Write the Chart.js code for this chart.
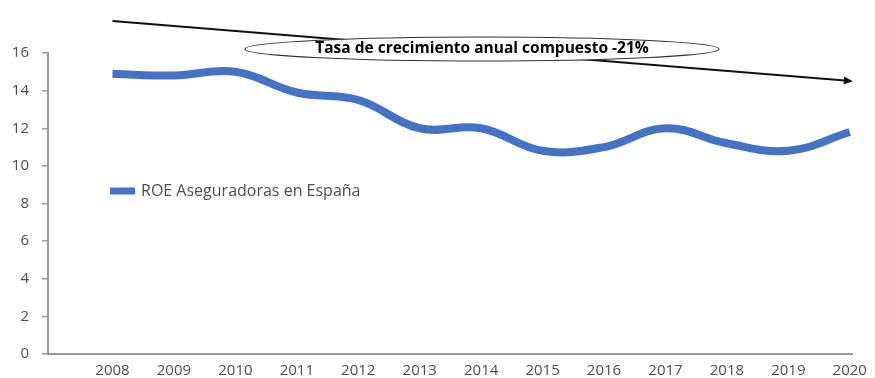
<!DOCTYPE html>
<html>
<head>
<meta charset="utf-8">
<script src="https://cdn.jsdelivr.net/npm/chart.js@4/dist/chart.umd.min.js"></script>
<style>
  html, body { margin: 0; padding: 0; background: #fff; }
  #wrap { width: 875px; height: 378px; }
</style>
</head>
<body>
<div id="wrap"><canvas id="roeChart" width="875" height="378"></canvas></div>
<script>
// ROE of Spanish insurers, 2008-2020
const years = [2008, 2009, 2010, 2011, 2012, 2013, 2014, 2015, 2016, 2017, 2018, 2019, 2020];
const roeValues = [14.9, 14.8, 15.0, 13.9, 13.5, 12.0, 12.0, 10.8, 11.0, 12.0, 11.2, 10.8, 11.8];
const seriesLabel = "ROE Aseguradoras en España";
const trendLabel = "Tasa de crecimiento anual compuesto -21%";
// trend arrow: start / end in data units
const trendStart = [2008, 17.7];
const trendEnd = [2020.05, 14.5];

const FONT = "'Open Sans', sans-serif";
const TEXT = "#4d4d4d";
const BLUE = "#4472c4";

// legend sitting inside the plot, plus the trend arrow with its label bubble
const overlayPlugin = {
  id: "overlay",
  afterDraw(chart) {
    const ctx = chart.ctx;
    const xs = chart.scales.x;
    const ys = chart.scales.y;
    ctx.save();

    // trend arrow
    const x1 = xs.getPixelForValue(trendStart[0]);
    const y1 = ys.getPixelForValue(trendStart[1]);
    const x2 = xs.getPixelForValue(trendEnd[0]);
    const y2 = ys.getPixelForValue(trendEnd[1]);
    const ang = Math.atan2(y2 - y1, x2 - x1);
    ctx.strokeStyle = "#111";
    ctx.lineWidth = 2;
    ctx.beginPath();
    ctx.moveTo(x1, y1);
    ctx.lineTo(x2 - 5 * Math.cos(ang), y2 - 5 * Math.sin(ang));
    ctx.stroke();
    ctx.fillStyle = "#111";
    ctx.beginPath();
    ctx.moveTo(x2, y2);
    ctx.lineTo(x2 - 9 * Math.cos(ang) + 4 * Math.sin(ang), y2 - 9 * Math.sin(ang) - 4 * Math.cos(ang));
    ctx.lineTo(x2 - 9 * Math.cos(ang) - 4 * Math.sin(ang), y2 - 9 * Math.sin(ang) + 4 * Math.cos(ang));
    ctx.closePath();
    ctx.fill();

    // label bubble
    const cx = 482, cy = 49;
    ctx.beginPath();
    ctx.ellipse(cx, cy, 237, 12, 0, 0, Math.PI * 2);
    ctx.fillStyle = "#fff";
    ctx.fill();
    ctx.strokeStyle = "#333";
    ctx.lineWidth = 1.2;
    ctx.stroke();
    ctx.fillStyle = "#000";
    ctx.font = "bold 15.5px " + FONT;
    ctx.textAlign = "center";
    ctx.textBaseline = "middle";
    ctx.fillText(trendLabel, cx, cy);

    // legend
    ctx.strokeStyle = BLUE;
    ctx.lineWidth = 7;
    ctx.beginPath();
    ctx.moveTo(110, 191);
    ctx.lineTo(135, 191);
    ctx.stroke();
    ctx.fillStyle = TEXT;
    ctx.font = "16px " + FONT;
    ctx.textAlign = "left";
    ctx.fillText(seriesLabel, 141, 191);

    ctx.restore();
  },
};

const ctx = document.getElementById("roeChart").getContext("2d");
new Chart(ctx, {
  type: "line",
  data: {
    datasets: [
      {
        label: seriesLabel,
        data: years.map((y, i) => ({ x: y, y: roeValues[i] })),
        borderColor: BLUE,
        borderWidth: 8,
        tension: 0.4,
        pointRadius: 0,
        fill: false,
      },
    ],
  },
  options: {
    responsive: false,
    animation: false,
    layout: { padding: { top: 53, right: 20, left: 0, bottom: 0 } },
    plugins: {
      legend: { display: false },
      tooltip: { enabled: false },
    },
    scales: {
      x: {
        type: "linear",
        min: 2006.95,
        max: 2020.05,
        afterBuildTicks: (axis) => {
          axis.ticks = years.map((v) => ({ value: v }));
        },
        afterFit: (axis) => {
          axis.height = 24;
        },
        grid: { display: false, drawTicks: false },
        border: { display: true, color: "#9a9a9a", width: 2 },
        ticks: {
          padding: 8,
          maxRotation: 0,
          autoSkip: false,
          color: TEXT,
          font: { family: FONT, size: 15 },
          callback: (v) => String(v),
        },
      },
      y: {
        min: 0,
        max: 16,
        afterFit: (axis) => {
          axis.width = 48;
        },
        grid: {
          display: true,
          drawOnChartArea: false,
          drawTicks: true,
          tickLength: 6,
          color: "#9a9a9a",
          lineWidth: 1.5,
        },
        border: { display: true, color: "#9a9a9a", width: 2 },
        ticks: {
          stepSize: 2,
          padding: 13,
          color: TEXT,
          font: { family: FONT, size: 15 },
        },
      },
    },
  },
  plugins: [overlayPlugin],
});
</script>
</body>
</html>
